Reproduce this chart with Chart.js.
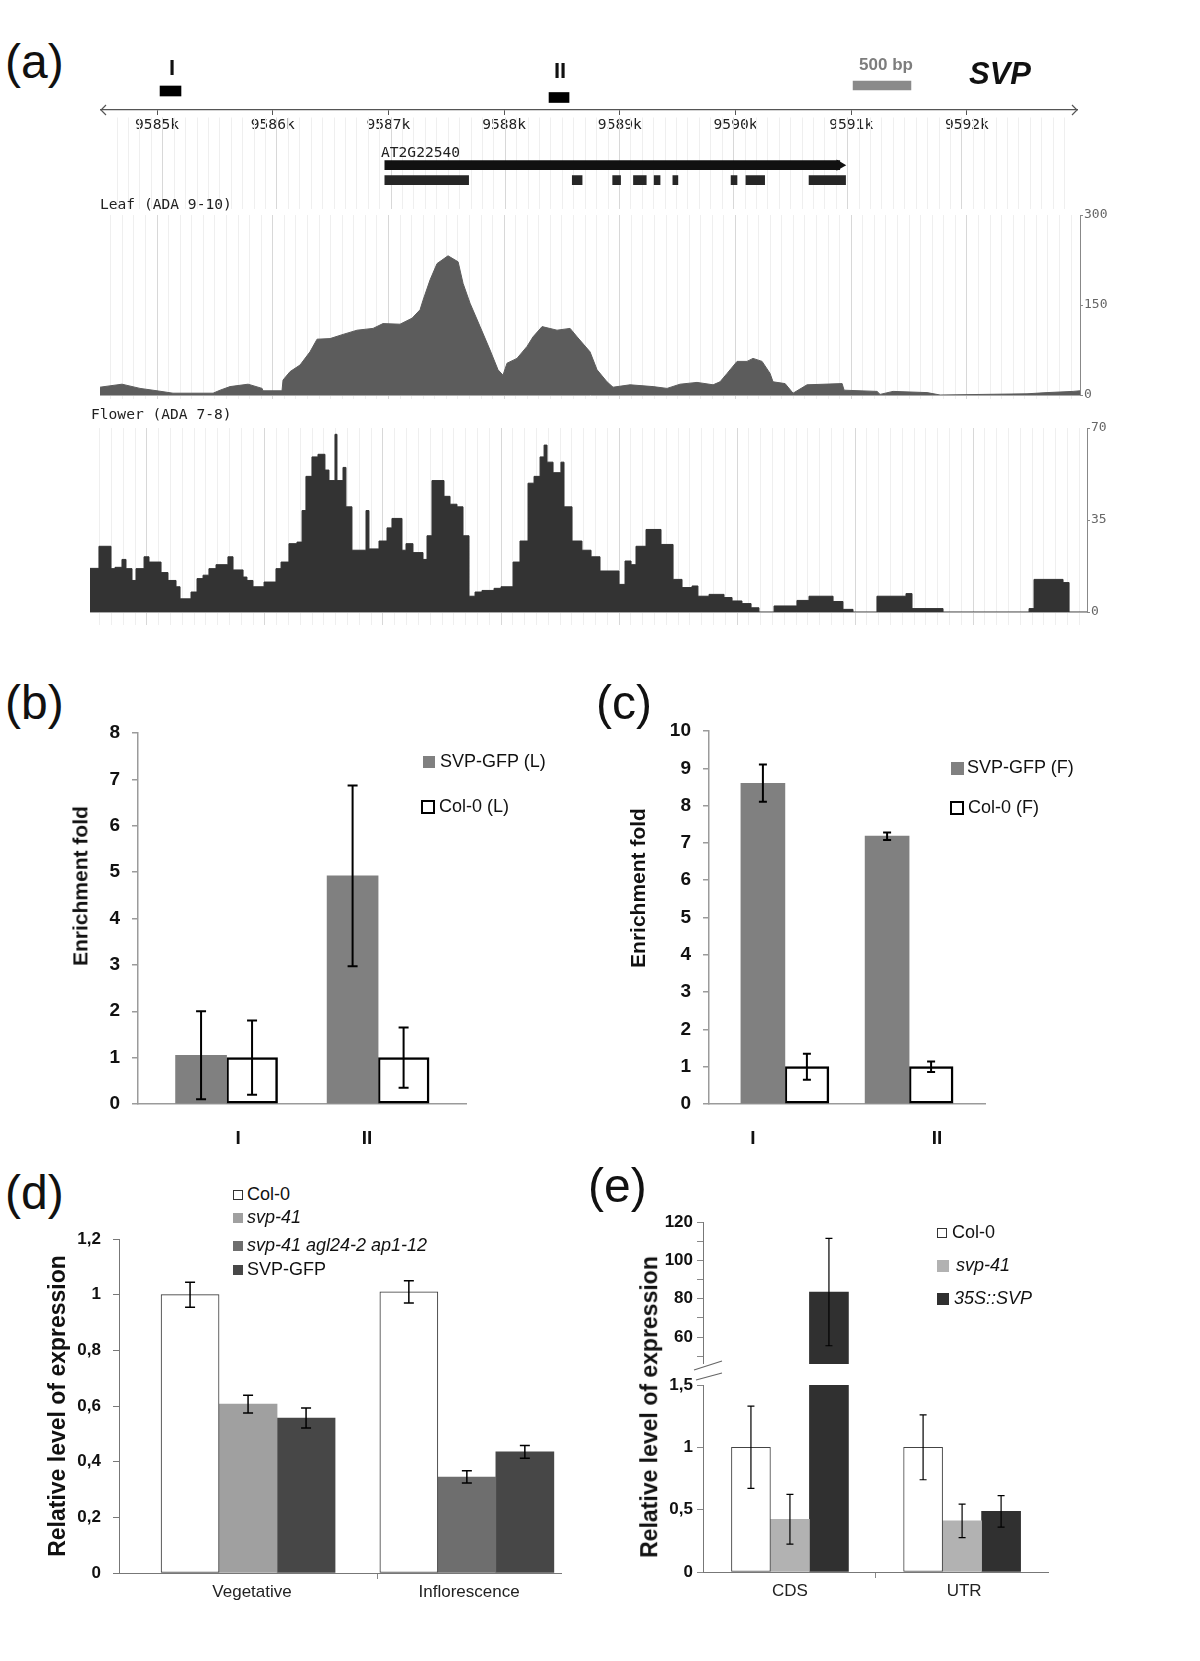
<!DOCTYPE html>
<html>
<head>
<meta charset="utf-8">
<script src="https://cdn.jsdelivr.net/npm/chart.js@4.4.1/dist/chart.umd.min.js"></script>
<style>
  html, body { margin: 0; padding: 0; background: #fff; }
  body { width: 1200px; height: 1661px; position: relative; overflow: hidden;
         font-family: "Liberation Sans", Arial, sans-serif; color: #111; }
  canvas { position: absolute; }
  .t { position: absolute; white-space: nowrap; line-height: 1.2; z-index: 2; }
  .v { position: absolute; white-space: nowrap; line-height: 1.2; z-index: 2; font-weight: bold;
       transform: translate(-50%, -50%) rotate(-90deg); }
  .sw { position: absolute; box-sizing: border-box; z-index: 2; }
  .mono { font-family: "DejaVu Sans Mono", "Liberation Mono", monospace; font-size: 14.6px; color: #222; }
</style>
</head>
<body>
<script>
// ---------- (a) SVP locus, coordinates in kb ----------
const kbTicks = [9585, 9586, 9587, 9588, 9589, 9590, 9591, 9592];
const markerNames = ['I', 'II'];
const markerStart = [9585.026, 9588.388];
const markerEnd = [9585.207, 9588.561];
const scaleBar = [9591.016, 9591.516]; // 500 bp
const geneName = 'AT2G22540';
const geneBody = [9586.945, 9590.93];
const exonStart = [9586.945, 9588.587, 9588.941, 9589.123, 9589.304, 9589.468, 9589.978, 9590.108, 9590.661];
const exonEnd   = [9587.679, 9588.673, 9589.010, 9589.235, 9589.356, 9589.512, 9590.030, 9590.272, 9590.981];

// Leaf (ADA 9-10) coverage
const leafPos = [9584.507, 9584.697, 9584.853, 9585.000, 9585.138, 9585.285, 9585.484, 9585.545, 9585.631, 9585.787,
  9585.908, 9585.916, 9586.080, 9586.089, 9586.150, 9586.236, 9586.322, 9586.383, 9586.495, 9586.608,
  9586.729, 9586.867, 9586.953, 9587.100, 9587.204, 9587.273, 9587.299, 9587.360, 9587.420, 9587.515,
  9587.602, 9587.645, 9587.705, 9587.792, 9587.878, 9587.947, 9587.990, 9588.025, 9588.111, 9588.198,
  9588.250, 9588.328, 9588.457, 9588.570, 9588.630, 9588.742, 9588.803, 9588.889, 9588.941, 9589.088,
  9589.287, 9589.408, 9589.520, 9589.667, 9589.806, 9589.866, 9589.927, 9590.013, 9590.099, 9590.151,
  9590.229, 9590.298, 9590.324, 9590.428, 9590.497, 9590.618, 9590.921, 9590.938, 9591.223, 9591.249,
  9591.361, 9591.655, 9591.768, 9592.519, 9592.692, 9592.917, 9592.977];
const leafVal = [13, 18, 11, 7, 3, 3, 3, 8, 14, 18,
  11, 7, 7, 25, 39, 50, 72, 93, 94, 101,
  108, 111, 119, 118, 128, 142, 158, 192, 219, 232,
  222, 186, 153, 114, 75, 42, 33, 53, 61, 81,
  97, 114, 108, 111, 97, 72, 42, 22, 13, 17,
  14, 11, 18, 21, 17, 22, 36, 56, 56, 61,
  56, 36, 22, 19, 3, 17, 19, 8, 6, 1,
  6, 4, 0, 2, 4, 6, 7];
const leafAxisTicks = [0, 150, 300];

// Flower (ADA 7-8) coverage, step starts
const flowerPos = [9584.517, 9584.593, 9584.695, 9584.729, 9584.788, 9584.822, 9584.873, 9584.907, 9584.975, 9585.017,
  9585.119, 9585.178, 9585.246, 9585.280, 9585.373, 9585.424, 9585.475, 9585.525, 9585.585, 9585.686,
  9585.729, 9585.814, 9585.847, 9585.898, 9585.992, 9586.093, 9586.136, 9586.203, 9586.271, 9586.314,
  9586.347, 9586.398, 9586.449, 9586.508, 9586.542, 9586.593, 9586.610, 9586.661, 9586.686, 9586.737,
  9586.856, 9586.881, 9586.966, 9587.034, 9587.076, 9587.161, 9587.195, 9587.254, 9587.339, 9587.373,
  9587.415, 9587.517, 9587.568, 9587.627, 9587.678, 9587.729, 9587.780, 9587.839, 9587.941, 9588.000,
  9588.102, 9588.161, 9588.229, 9588.280, 9588.331, 9588.365, 9588.390, 9588.441, 9588.508, 9588.534,
  9588.602, 9588.686, 9588.763, 9588.839, 9589.000, 9589.051, 9589.102, 9589.144, 9589.229, 9589.356,
  9589.458, 9589.534, 9589.619, 9589.669, 9589.763, 9589.890, 9589.958, 9590.042, 9590.119, 9590.186,
  9590.314, 9590.508, 9590.610, 9590.814, 9590.898, 9590.983, 9591.186, 9591.432, 9591.483, 9591.746,
  9592.475, 9592.517, 9592.763, 9592.814, 9592.966];
const flowerVal = [16.6, 25, 16.5, 17, 20, 16.5, 12, 16.5, 21, 19,
  15, 12, 9.6, 5, 7.6, 12.7, 14, 16.5, 18, 21,
  16, 13.3, 12, 9.6, 11.4, 16.5, 19, 26, 26.6, 38.6,
  51.6, 59, 60, 54, 50, 67.6, 50, 55, 40, 23.5,
  38.6, 24, 27, 32, 35.6, 23.5, 26, 22.6, 20, 29,
  50, 44, 41, 40, 29, 6, 7.6, 8.2, 9, 9.6,
  19, 27, 49, 51.6, 59, 63.5, 57, 53, 57, 40,
  27, 23.5, 21, 15.6, 10.5, 19.4, 18, 25, 31.4, 25.7,
  12.4, 9.3, 9.9, 6, 6.7, 5.5, 4.2, 3.2, 1.6, 0,
  2.3, 4.4, 6, 4, 1, 0, 6, 7, 1.3, 0,
  1.3, 12.4, 11.2, 0, 0];
const flowerAxisTicks = [0, 35, 70];

// ---------- (b) leaf ChIP ----------
const bSites = ['I', 'II'];
const bSvpGfp = [1.05, 4.92];
const bSvpGfpErr = [0.95, 1.95];
const bCol = [1.0, 1.0];
const bColErr = [0.8, 0.65];

// ---------- (c) flower ChIP ----------
const cSites = ['I', 'II'];
const cSvpGfp = [8.6, 7.18];
const cSvpGfpErr = [0.5, 0.1];
const cCol = [1.0, 1.0];
const cColErr = [0.35, 0.14];

// ---------- (d) expression ----------
const dTissues = ['Vegetative', 'Inflorescence'];
const dCol = [1.0, 1.01];
const dColErr = [0.045, 0.04];
const dSvp41 = [0.607, null];
const dSvp41Err = [0.032, null];
const dTriple = [null, 0.345];
const dTripleErr = [null, 0.022];
const dSvpGfp = [0.557, 0.435];
const dSvpGfpErr = [0.036, 0.023];

// ---------- (e) expression, broken axis ----------
const eRegions = ['CDS', 'UTR'];
const eCol = [1.0, 1.0];
const eColErr = [0.33, 0.26];
const eSvp41 = [0.423, 0.41];
const eSvp41Err = [0.2, 0.135];
const e35S = [83.5, 0.486];
const e35SErr = [28, 0.126];
const eUpperTicks = [50, 60, 70, 80, 90, 100, 110, 120];

// ---------- layout (positions on the page, not data) ----------
const geneView = [9584.507, 9592.96];
const leafView = [9584.507, 9592.977];
const flowerView = [9584.517, 9592.966];
const rows = { markers: [51, 57.5], scaleBar: 45.5, gene: 54.5, exon: 71.5 };
const bBarPos = [0.27, 0.732], bTickPos = [0.305, 0.698];
const cBarPos = [0.275, 0.725], cTickPos = [0.159, 0.826];
const dBarPos = [0.292, 0.787], dTickPos = [0.301, 0.792], dSep = 0.584;
const eBarPos = [0.252, 0.751], eTickPos = [0.252, 0.757], eSep = 0.501;

const SANS = '"Liberation Sans", Arial, sans-serif';
const MONO = '"DejaVu Sans Mono", "Liberation Mono", monospace';

Chart.defaults.font.family = SANS;
Chart.defaults.color = '#111';
Chart.defaults.animation = false;
Chart.defaults.responsive = false;
Chart.defaults.devicePixelRatio = 1;
Chart.defaults.plugins.legend.display = false;
Chart.defaults.plugins.tooltip.enabled = false;

function canvasAt(left, top, width, height) {
  const c = document.createElement('canvas');
  c.width = width; c.height = height;
  c.style.left = left + 'px'; c.style.top = top + 'px';
  c.style.width = width + 'px'; c.style.height = height + 'px';
  document.body.appendChild(c);
  return c;
}
const fixY = w => s => { s.width = w; s.paddingTop = 0; s.paddingBottom = 0; };
const fixX = h => s => { s.height = h; s.paddingLeft = 0; s.paddingRight = 0; };
const pts = (xs, ys) => xs.map((x, i) => ({ x, y: ys[i] }));
const comma = v => String(+(+v).toFixed(1)).replace('.', ',');
const isKb = v => Math.abs(v - Math.round(v)) < 1e-6;
const kbGrid = c => (c.tick && isKb(c.tick.value)) ? '#d8d8d8' : '#efefef';
function bpTicks(s) {
  const t = [];
  for (let i = Math.ceil(s.min * 10 + 1e-6); i <= Math.floor(s.max * 10 - 1e-6); i++) t.push({ value: i / 10 });
  s.ticks = t;
}

// error bars drawn from each dataset's "errors" list through the y scale
const errorBars = {
  id: 'errorBars',
  afterDatasetsDraw(chart, args, opts) {
    const { ctx, chartArea: a } = chart;
    const ys = chart.scales.y;
    ctx.save();
    ctx.beginPath();
    ctx.rect(a.left - 10, a.top - 1, a.right - a.left + 20, a.bottom - a.top + 2);
    ctx.clip();
    ctx.strokeStyle = '#000';
    ctx.lineWidth = opts.width || 1.5;
    chart.data.datasets.forEach((ds, i) => {
      if (!ds.errors) return;
      chart.getDatasetMeta(i).data.forEach((bar, j) => {
        const v = ds.data[j] && ds.data[j].y, e = ds.errors[j];
        if (v == null || e == null) return;
        const x = bar.x, hi = ys.getPixelForValue(v + e), lo = ys.getPixelForValue(v - e), c = (opts.cap || 10) / 2;
        ctx.beginPath();
        ctx.moveTo(x, hi); ctx.lineTo(x, lo);
        ctx.moveTo(x - c, hi); ctx.lineTo(x + c, hi);
        ctx.moveTo(x - c, lo); ctx.lineTo(x + c, lo);
        ctx.stroke();
      });
    });
    ctx.restore();
  }
};

// arrow heads on both ends of the genome axis
const axisArrows = {
  id: 'axisArrows',
  afterDraw(chart) {
    const { ctx, chartArea: a } = chart;
    const y = a.bottom;
    ctx.save();
    ctx.strokeStyle = '#555'; ctx.lineWidth = 1.2;
    ctx.beginPath();
    ctx.moveTo(a.left + 6, y - 5); ctx.lineTo(a.left + 1, y); ctx.lineTo(a.left + 6, y + 5);
    ctx.moveTo(a.right - 6, y - 5); ctx.lineTo(a.right - 1, y); ctx.lineTo(a.right - 6, y + 5);
    ctx.stroke();
    ctx.restore();
  }
};

// two slashes marking the break of the y axis in (e)
const axisBreak = {
  id: 'axisBreak',
  afterDraw(chart) {
    const { ctx, chartArea: a } = chart;
    ctx.save();
    ctx.strokeStyle = '#666'; ctx.lineWidth = 1.2;
    ctx.beginPath();
    ctx.moveTo(a.left - 9, a.top - 15); ctx.lineTo(a.left + 19, a.top - 24);
    ctx.moveTo(a.left - 7, a.top - 5); ctx.lineTo(a.left + 19, a.top - 12);
    ctx.stroke();
    ctx.restore();
  }
};

// ===== (a) marker / scale bar / genome axis =====
new Chart(canvasAt(100, 40, 978, 95), {
  type: 'bar',
  data: {
    datasets: [
      { data: markerStart.map((s, i) => ({ x: [s, markerEnd[i]], y: rows.markers[i] })), backgroundColor: '#000', barThickness: 10 },
      { data: [{ x: scaleBar, y: rows.scaleBar }], backgroundColor: '#8a8a8a', barThickness: 9 }
    ]
  },
  options: {
    indexAxis: 'y',
    layout: { padding: 0 },
    datasets: { bar: { grouped: false } },
    scales: {
      x: { type: 'linear', min: geneView[0], max: geneView[1], offset: false,
           afterBuildTicks: s => { s.ticks = kbTicks.map(value => ({ value })); },
           ticks: { callback: v => v + 'k', font: { family: MONO, size: 14.6 }, color: '#222', padding: 1, autoSkip: false, maxRotation: 0 },
           grid: { drawOnChartArea: false, offset: false, tickLength: 5, color: '#555' },
           border: { color: '#555', width: 1.3 }, afterFit: fixX(25) },
      y: { type: 'linear', display: false, reverse: true, min: 0, max: 70, offset: false }
    }
  },
  plugins: [axisArrows]
});

// ===== (a) gene model =====
new Chart(canvasAt(100, 111, 978, 104), {
  type: 'bar',
  data: {
    datasets: [
      { indexAxis: 'y', grouped: false, data: [{ x: geneBody, y: rows.gene }], backgroundColor: '#111', barThickness: 9 },
      { type: 'scatter', data: [{ x: geneBody[1], y: rows.gene }], pointStyle: 'triangle', rotation: 90,
        radius: 6.5, backgroundColor: '#111', borderWidth: 0 },
      { indexAxis: 'y', grouped: false, data: exonStart.map((s, i) => ({ x: [s, exonEnd[i]], y: rows.exon })), backgroundColor: '#262626', barThickness: 9 }
    ]
  },
  options: {
    layout: { padding: 0 },
    scales: {
      x: { type: 'linear', min: geneView[0], max: geneView[1], offset: false, afterBuildTicks: bpTicks,
           ticks: { display: false }, grid: { color: kbGrid, drawTicks: false, offset: false },
           border: { display: false }, afterFit: fixX(0) },
      y: { type: 'linear', display: false, reverse: true, min: 0, max: 104, offset: false }
    }
  }
});

// ===== (a) leaf track =====
new Chart(canvasAt(100, 207, 1020, 193), {
  type: 'line',
  data: {
    datasets: [{ data: pts(leafPos, leafVal), fill: 'origin', backgroundColor: '#5c5c5c', borderColor: '#5c5c5c',
                 borderWidth: 1, pointRadius: 0, tension: 0 }]
  },
  options: {
    layout: { padding: { top: 8 } },
    scales: {
      x: { type: 'linear', min: leafView[0], max: leafView[1], afterBuildTicks: bpTicks,
           ticks: { display: false }, grid: { color: kbGrid, tickLength: 4 },
           border: { color: '#aaa' }, afterFit: fixX(5) },
      y: { position: 'right', min: 0, max: 300, afterBuildTicks: s => { s.ticks = leafAxisTicks.map(value => ({ value })); },
           ticks: { font: { family: MONO, size: 13 }, color: '#666', padding: 1 },
           grid: { drawOnChartArea: false, tickLength: 3, color: '#888' },
           border: { color: '#888' }, afterFit: fixY(40) }
    }
  }
});

// ===== (a) flower track =====
new Chart(canvasAt(90, 420, 1032, 205), {
  type: 'line',
  data: {
    datasets: [{ data: pts(flowerPos, flowerVal), stepped: true, fill: 'origin', backgroundColor: '#333', borderColor: '#333',
                 borderWidth: 1, pointRadius: 0 }]
  },
  options: {
    layout: { padding: { top: 8 } },
    scales: {
      x: { type: 'linear', min: flowerView[0], max: flowerView[1], afterBuildTicks: bpTicks,
           ticks: { display: false }, grid: { color: kbGrid, tickLength: 13 },
           border: { color: '#aaa' }, afterFit: fixX(13) },
      y: { position: 'right', min: 0, max: 70, afterBuildTicks: s => { s.ticks = flowerAxisTicks.map(value => ({ value })); },
           ticks: { font: { family: MONO, size: 13 }, color: '#666', padding: 1 },
           grid: { drawOnChartArea: false, tickLength: 3, color: '#888' },
           border: { color: '#888' }, afterFit: fixY(35) }
    }
  }
});

// ===== (b) and (c) ChIP enrichment =====
function chipChart(box, barPos, tickPos, sites, svp, svpErr, col, colErr, ymax, thick, yWidth, cap) {
  return new Chart(canvasAt(...box), {
    type: 'bar',
    data: {
      datasets: [
        { data: pts(barPos, svp), errors: svpErr, backgroundColor: '#808080', barThickness: thick },
        { data: pts(barPos, col), errors: colErr, backgroundColor: '#fff', borderColor: '#000', borderWidth: 2.5,
          borderSkipped: false, barThickness: thick }
      ]
    },
    options: {
      layout: { padding: { top: 15, right: 10 } },
      plugins: { errorBars: { cap, width: 2 } },
      scales: {
        x: { type: 'linear', min: 0, max: 1, offset: false,
             afterBuildTicks: s => { s.ticks = tickPos.map(value => ({ value })); },
             ticks: { callback: (v, i) => sites[i], font: { weight: 'bold', size: 19 }, padding: 15,
                      autoSkip: false, maxRotation: 0 },
             grid: { display: false, offset: false }, border: { color: '#9b9b9b', width: 1.5 }, afterFit: fixX(50) },
        y: { min: 0, max: ymax, ticks: { stepSize: 1, autoSkip: false, font: { weight: 'bold', size: 19 }, padding: 12 },
             grid: { drawOnChartArea: false, tickLength: 6, color: '#9b9b9b', lineWidth: 1.5 },
             border: { color: '#9b9b9b', width: 1.5 }, afterFit: fixY(yWidth) }
      }
    },
    plugins: [errorBars]
  });
}
chipChart([65, 718, 411, 436], bBarPos, bTickPos, bSites, bSvpGfp, bSvpGfpErr, bCol, bColErr, 8, 51, 73, 10);
chipChart([621, 716, 374, 438], cBarPos, cTickPos, cSites, cSvpGfp, cSvpGfpErr, cCol, cColErr, 10, 44, 88, 8);

// ===== (d) =====
new Chart(canvasAt(41, 1227, 540, 386), {
  type: 'bar',
  data: {
    datasets: [
      { data: pts(dBarPos, dCol), errors: dColErr, backgroundColor: '#fff', borderColor: '#333', borderWidth: 1, borderSkipped: false },
      { data: pts(dBarPos, dSvp41), errors: dSvp41Err, backgroundColor: '#a0a0a0' },
      { data: pts(dBarPos, dTriple), errors: dTripleErr, backgroundColor: '#6e6e6e' },
      { data: pts(dBarPos, dSvpGfp), errors: dSvpGfpErr, backgroundColor: '#474747' }
    ]
  },
  options: {
    layout: { padding: { top: 12, right: 20 } },
    datasets: { bar: { barThickness: 58, skipNull: true } },
    plugins: { errorBars: { cap: 10, width: 1.5 } },
    scales: {
      x: { type: 'linear', min: 0, max: 1, offset: false,
           afterBuildTicks: s => { s.ticks = [dTickPos[0], dSep, dTickPos[1]].map(value => ({ value })); },
           ticks: { callback: v => { const k = dTickPos.indexOf(v); return k >= 0 ? dTissues[k] : ''; },
                    font: { size: 17 }, color: '#222', padding: 3, autoSkip: false, maxRotation: 0 },
           grid: { drawOnChartArea: false, offset: false, tickLength: 6, color: '#888',
                   tickColor: c => (c.tick && c.tick.value === dSep) ? '#888' : 'rgba(0,0,0,0)' },
           border: { color: '#777' }, afterFit: fixX(40) },
      y: { min: 0, max: 1.2, ticks: { stepSize: 0.2, autoSkip: false, callback: comma, font: { weight: 'bold', size: 17 }, padding: 12 },
           title: { display: true, text: 'Relative level of expression', font: { weight: 'bold', size: 23 }, color: '#111',
                    padding: { top: 4, bottom: 4 } },
           grid: { drawOnChartArea: false, tickLength: 6, color: '#777' },
           border: { color: '#777' }, afterFit: fixY(78) }
    }
  },
  plugins: [errorBars]
});

// ===== (e) upper part of broken axis =====
const eSets = () => [
  { data: pts(eBarPos, eCol), errors: eColErr, backgroundColor: '#fff', borderColor: '#444', borderWidth: 1, borderSkipped: false },
  { data: pts(eBarPos, eSvp41), errors: eSvp41Err, backgroundColor: '#b2b2b2' },
  { data: pts(eBarPos, e35S), errors: e35SErr, backgroundColor: '#303030' }
];
new Chart(canvasAt(632, 1210, 436, 154), {
  type: 'bar',
  data: { datasets: eSets() },
  options: {
    layout: { padding: { top: 12, right: 20 } },
    datasets: { bar: { barThickness: 39, clip: 0 } },
    plugins: { errorBars: { cap: 7, width: 1.2 } },
    scales: {
      x: { type: 'linear', display: false, min: 0, max: 1, offset: false },
      y: { min: 46, max: 120,
           afterBuildTicks: s => { s.ticks = eUpperTicks.map(value => ({ value })); },
           ticks: { autoSkip: false, callback: v => (v >= 60 && v % 20 === 0) ? String(v) : '',
                    font: { weight: 'bold', size: 17 }, padding: 4 },
           grid: { drawOnChartArea: false, tickLength: 6, color: '#888' },
           border: { color: '#777' }, afterFit: fixY(71) }
    }
  },
  plugins: [errorBars]
});

// ===== (e) lower part =====
new Chart(canvasAt(632, 1350, 436, 262), {
  type: 'bar',
  data: { datasets: eSets() },
  options: {
    layout: { padding: { top: 35, right: 20 } },
    datasets: { bar: { barThickness: 39, clip: 0 } },
    plugins: { errorBars: { cap: 7, width: 1.2 } },
    scales: {
      x: { type: 'linear', min: 0, max: 1, offset: false,
           afterBuildTicks: s => { s.ticks = [eTickPos[0], eSep, eTickPos[1]].map(value => ({ value })); },
           ticks: { callback: v => { const k = eTickPos.indexOf(v); return k >= 0 ? eRegions[k] : ''; },
                    font: { size: 17 }, color: '#222', padding: 3, autoSkip: false, maxRotation: 0 },
           grid: { drawOnChartArea: false, offset: false, tickLength: 6, color: '#888',
                   tickColor: c => (c.tick && c.tick.value === eSep) ? '#888' : 'rgba(0,0,0,0)' },
           border: { color: '#777' }, afterFit: fixX(40) },
      y: { min: 0, max: 1.5, ticks: { stepSize: 0.5, autoSkip: false, callback: comma, font: { weight: 'bold', size: 17 }, padding: 4 },
           grid: { drawOnChartArea: false, tickLength: 6, color: '#888' },
           border: { color: '#777' }, afterFit: fixY(71) }
    }
  },
  plugins: [errorBars, axisBreak]
});

// ---------- text ----------
function put(str, x, y, css, anchor) {
  const d = document.createElement('div');
  d.className = 't';
  d.textContent = str;
  d.style.cssText += 'left:' + x + 'px;top:' + y + 'px;' + (css || '');
  if (anchor === 'c') d.style.transform = 'translate(-50%,-50%)';
  else if (anchor === 'l') d.style.transform = 'translateY(-50%)';
  document.body.appendChild(d);
  return d;
}
function vput(str, cx, cy, css) {
  const d = document.createElement('div');
  d.className = 'v';
  d.textContent = str;
  d.style.cssText += 'left:' + cx + 'px;top:' + cy + 'px;' + (css || '');
  document.body.appendChild(d);
}
function swatch(x, y, w, h, bg, border) {
  const d = document.createElement('div');
  d.className = 'sw';
  d.style.cssText += 'left:' + x + 'px;top:' + y + 'px;width:' + w + 'px;height:' + h + 'px;background:' + bg + ';' +
    (border ? 'border:' + border + ';' : '');
  document.body.appendChild(d);
}

const big = 'font-size:48px;';
put('(a)', 5, 33, big);
put('(b)', 5, 674, big);
put('(c)', 596, 674, big);
put('(d)', 5, 1164, big);
put('(e)', 588, 1157, big);

// (a)
put(markerNames[0], 172, 68, 'font-size:22px;font-weight:bold;', 'c');
put(markerNames[1], 560, 71, 'font-size:22px;font-weight:bold;', 'c');
put('500 bp', 886, 65, 'font-size:17px;font-weight:bold;color:#7d7d7d;', 'c');
put('SVP', 1000, 74, 'font-size:31px;font-weight:bold;font-style:italic;', 'c');
put(geneName, 381, 152, '', 'l').classList.add('mono');
put('Leaf (ADA 9-10)', 100, 204, '', 'l').classList.add('mono');
put('Flower (ADA 7-8)', 91, 414, '', 'l').classList.add('mono');

// (b), (c) titles and legends
vput('Enrichment fold', 80, 886, 'font-size:21px;');
vput('Enrichment fold', 638, 888, 'font-size:21px;');
const lg = 'font-size:18px;';
swatch(423, 756, 12, 12, '#808080');
put('SVP-GFP (L)', 440, 762, lg, 'l');
swatch(421, 800, 14, 14, '#fff', '2.5px solid #000');
put('Col-0 (L)', 439, 807, lg, 'l');
swatch(951, 762, 13, 13, '#808080');
put('SVP-GFP (F)', 967, 768, lg, 'l');
swatch(950, 801, 14, 14, '#fff', '2.5px solid #000');
put('Col-0 (F)', 968, 808, lg, 'l');

// (d) legend
swatch(233, 1190, 10, 10, '#fff', '1px solid #333');
put('Col-0', 247, 1195, lg, 'l');
swatch(233, 1213, 10, 10, '#a0a0a0');
put('svp-41', 247, 1218, lg + 'font-style:italic;', 'l');
swatch(233, 1241, 10, 10, '#6e6e6e');
put('svp-41 agl24-2 ap1-12', 247, 1246, lg + 'font-style:italic;', 'l');
swatch(233, 1265, 10, 10, '#474747');
put('SVP-GFP', 247, 1270, lg, 'l');

// (e) title and legend
vput('Relative level of expression', 650, 1407, 'font-size:23px;');
swatch(937, 1228, 10, 10, '#fff', '1px solid #333');
put('Col-0', 952, 1233, lg, 'l');
swatch(937, 1260, 12, 12, '#b2b2b2');
put('svp-41', 956, 1266, lg + 'font-style:italic;', 'l');
swatch(937, 1293, 12, 12, '#303030');
put('35S::SVP', 954, 1299, lg + 'font-style:italic;', 'l');
</script>
</body>
</html>
